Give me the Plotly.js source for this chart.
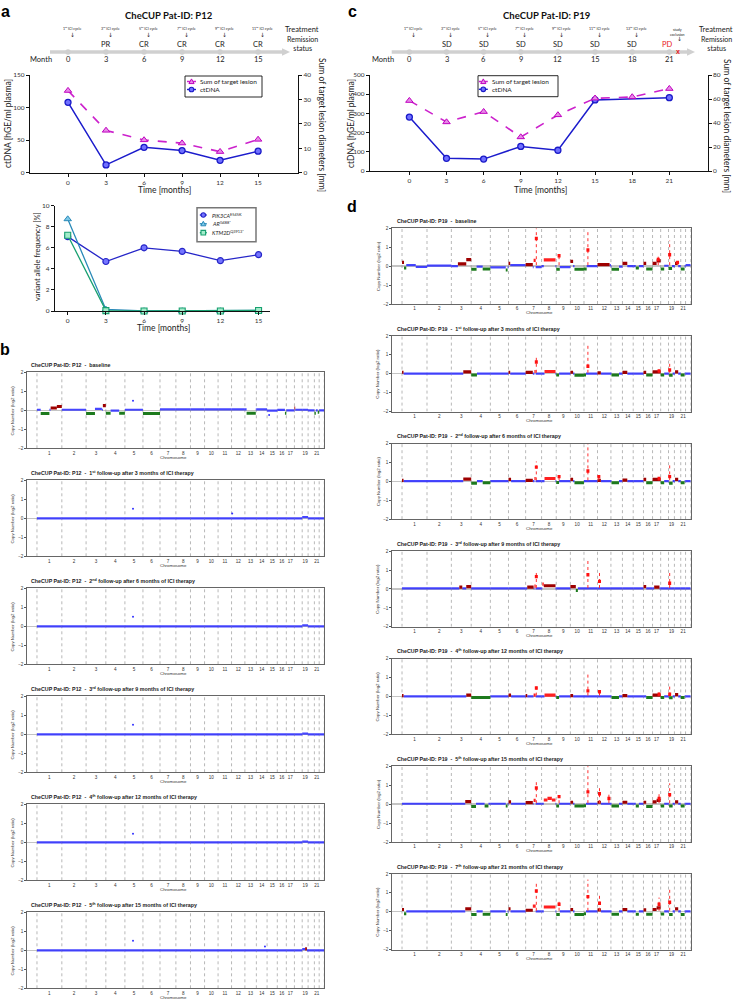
<!DOCTYPE html>
<html><head><meta charset="utf-8">
<script src="https://cdn.plot.ly/plotly-3.0.1.min.js"></script>
<style>html,body{margin:0;padding:0;background:#fff}#plot{width:733px;height:999px}</style>
</head><body><div id="plot"></div>
<script>
// ================= DATA =================
const monthsA = [0, 3, 6, 9, 12, 15];
const ctdnaA = [108, 12, 39, 34, 19, 33];
const lesionA = [33.6, 17.3, 13.4, 12.1, 8.6, 13.6];
const treatA = ['1<sup>st</sup> ICI cycle','3<sup>rd</sup> ICI cycle','5<sup>th</sup> ICI cycle','7<sup>th</sup> ICI cycle','9<sup>th</sup> ICI cycle','11<sup>th</sup> ICI cycle'];
const remissionA = ['', 'PR', 'CR', 'CR', 'CR', 'CR'];
const ticksCtA = [0, 50, 100, 150];
const ticksLesA = [0, 10, 20, 30, 40];

const monthsVAF = [0, 3, 6, 9, 12, 15];
const vafPIK3CA = [7.06, 4.7, 6.0, 5.66, 4.78, 5.35];
const vafAR = [8.73, 0.15, 0, 0, 0, 0.05];
const vafKTM2D = [7.2, 0.04, 0, 0, 0, 0.05];
const ticksVAF = [0, 2, 4, 6, 8, 10];

const monthsC = [0, 3, 6, 9, 12, 15, 18, 21];
const ctdnaMonthsC = [0, 3, 6, 9, 12, 15, 21];
const ctdnaC = [281, 66, 62, 128, 108, 370, 382];
const lesionC = [58.6, 40.8, 49.4, 28.3, 46.7, 60.6, 61.7, 68.6];
const treatC = ['1<sup>st</sup> ICI cycle','3<sup>rd</sup> ICI cycle','5<sup>th</sup> ICI cycle','7<sup>th</sup> ICI cycle','9<sup>th</sup> ICI cycle','11<sup>th</sup> ICI cycle','13<sup>th</sup> ICI cycle','study<br>exclusion'];
const remissionC = ['', 'SD', 'SD', 'SD', 'SD', 'SD', 'SD', 'PD'];
const ticksCtC = [0, 100, 200, 300, 400, 500];
const ticksLesC = [0, 20, 40, 60, 80];

// chromosome lengths (Mb, hg19) and shown tick names
const chrLen = [249.25,243.2,198.02,191.15,180.92,171.12,159.14,146.36,141.21,135.53,135.01,133.85,115.17,107.35,102.53,90.35,81.2,78.08,59.13,63.03,48.13,51.3];
const chrNames = ['1','2','3','4','5','6','7','8','9','10','11','12','13','14','15','16','17','','19','','21',''];
const cnTicks = [-2, -1, 0, 1, 2];

// CNV segments: [chromosome, startFraction, endFraction, log2ratio, class]  b=neutral g=loss r=gain R=high gain
// amplifications: [chromosome, fraction, core log2ratio, top log2ratio]
// outliers: [chromosome, fraction, log2ratio]
const p19_0_base = [0.05,0.03,0,-0.02,-0.06,0.05,-0.05,0,-0.05,0,0,0.05,-0.02,0,0,0,0,0.02,0,0,0,0.05];
const p19_0_segs = [[1,0,.08,.2,'r'],[1,.08,.17,-.1,'g'],[1,.55,1,-.04,'b'],[3,.33,.75,.12,'r'],[3,.75,1,.35,'r'],[4,0,.28,-.17,'g'],[4,.6,1,-.15,'g'],[5,.85,.95,-.2,'g'],[6,0,.1,.15,'r'],[7,0,.45,.08,'r'],[7,.5,.63,.3,'R'],[8,.15,.95,.33,'R'],[9,0,.25,-.17,'g'],[10,0,.2,.25,'r'],[10,.3,1,-.17,'g'],[11,0,.2,-.15,'g'],[12,0,.9,.08,'r'],[13,.05,.7,-.17,'g'],[14,0,.45,.15,'r'],[15,.25,.55,-.1,'g'],[16,0,.3,.15,'r'],[16,.3,1,-.15,'g'],[17,0,.5,.15,'r'],[17,.5,1,.28,'r'],[18,0,.45,-.15,'g'],[19,0,.6,-.12,'g'],[20,.1,.6,.15,'r'],[21,0,.8,-.15,'g']];
const p19_0_amps = [[7,.67,1.46,2.0],[11,.29,.85,1.8],[19,.2,.6,1.35],[9,.2,.55,.67],[17,.7,.35,.5],[20,.5,.2,.32]];

const p19_1_segs = [[1,0,.06,.08,'r'],[3,.6,1,.1,'r'],[4,0,.3,-.06,'g'],[6,0,.1,.08,'r'],[7,0,.45,.07,'r'],[7,.55,.63,.12,'R'],[8,.2,.95,.12,'R'],[9,0,.2,-.06,'g'],[10,0,.2,.08,'r'],[10,.3,1,-.08,'g'],[11,0,.15,-.06,'g'],[12,0,.25,.05,'r'],[13,.05,.7,-.07,'g'],[14,0,.45,.07,'r'],[16,0,.3,.07,'r'],[16,.3,1,-.07,'g'],[17,0,1,.1,'r'],[18,0,.45,-.07,'g'],[19,.1,.7,-.08,'g'],[20,.1,.6,.1,'r'],[21,0,.8,-.07,'g']];
const p19_1_amps = [[7,.67,.62,1.0],[11,.29,.4,1.55],[19,.2,.2,.7],[17,.8,.15,.25]];

const p19_2_segs = [[1,0,.06,.05,'r'],[3,.6,1,.12,'r'],[4,0,.3,-.1,'g'],[4,.6,1,-.08,'g'],[6,0,.15,.1,'r'],[7,0,.45,.05,'r'],[7,.55,.63,.15,'R'],[8,.2,.95,.15,'R'],[9,0,.2,-.06,'g'],[10,0,.2,.1,'r'],[10,.3,1,-.08,'g'],[12,0,.25,.05,'r'],[13,.05,.7,-.08,'g'],[14,0,.45,.07,'r'],[16,0,.3,.1,'r'],[16,.3,1,-.08,'g'],[17,0,1,.1,'r'],[18,0,.45,-.07,'g'],[19,.1,.7,-.1,'g'],[20,.1,.6,.1,'r'],[21,0,.8,-.08,'g']];
const p19_2_amps = [[7,.67,.75,1.05],[11,.29,.55,2.0],[12,.1,.25,.3],[19,.2,.25,.9],[9,.2,.25,.25],[17,.8,.15,.35]];

const p19_3_segs = [[3,.4,.55,.1,'r'],[3,.75,1,.12,'r'],[7,.1,.5,.1,'r'],[7,.55,.63,.15,'R'],[8,.05,.15,.25,'R'],[8,.15,.95,.17,'r'],[10,0,.4,.12,'r'],[10,.4,.55,-.08,'g'],[16,0,.3,.12,'r'],[17,.2,.85,.1,'r']];
const p19_3_amps = [[7,.67,.65,1.0],[11,.29,.75,1.6],[12,.15,.4,1.0],[19,.2,.3,1.0]];

const p19_4_segs = [[1,0,.06,.05,'r'],[3,.75,1,.08,'r'],[4,0,1,-.05,'g'],[6,0,.15,.08,'r'],[7,0,.1,.05,'r'],[7,.5,.63,.08,'R'],[8,.2,.95,.08,'R'],[9,0,.2,-.05,'g'],[10,0,.2,.05,'r'],[13,.05,.7,-.05,'g'],[14,0,.45,.05,'r'],[16,.3,1,-.05,'g'],[17,0,1,.08,'r'],[18,0,.45,-.05,'g'],[19,.1,.7,-.07,'g'],[20,.1,.6,.1,'r'],[21,0,.8,-.05,'g']];
const p19_4_amps = [[7,.67,.45,.55],[11,.29,.3,1.3],[12,.15,.25,.3],[19,.2,.12,.55],[17,.8,.12,.3]];

const p19_5_segs = [[3,.7,1,.13,'r'],[4,0,.25,-.12,'g'],[4,.7,.9,-.1,'g'],[5,.85,.95,-.1,'g'],[6,0,.15,.12,'r'],[7,0,.45,.08,'r'],[7,.5,.63,.2,'R'],[8,.15,.4,.22,'R'],[8,.4,.7,.3,'R'],[8,.7,.95,.22,'R'],[9,0,.2,-.1,'g'],[10,0,.2,.1,'r'],[10,.3,1,-.1,'g'],[11,0,.15,-.08,'g'],[12,0,.25,.1,'r'],[13,.05,.7,-.1,'g'],[14,0,.45,.1,'r'],[15,.25,.55,-.1,'g'],[16,0,.3,.1,'r'],[16,.3,1,-.12,'g'],[17,0,.5,.12,'r'],[17,.5,1,.2,'r'],[18,0,.45,-.1,'g'],[19,.1,.7,-.1,'g'],[20,.1,.6,.12,'r'],[21,0,.8,-.1,'g']];
const p19_5_amps = [[7,.67,.85,1.2],[11,.29,.65,2.05],[12,.15,.55,.95],[19,.2,.5,1.1],[9,.2,.4,.45],[17,.8,.3,.6],[12,.85,.3,.5]];

const p19_6_segs = [[1,0,.08,.12,'r'],[1,.08,.17,-.1,'g'],[3,.7,1,.15,'r'],[4,0,.28,-.15,'g'],[4,.6,1,-.13,'g'],[5,.85,.95,-.15,'g'],[6,0,.12,.15,'r'],[7,0,.45,.08,'r'],[7,.45,.63,.3,'R'],[8,.15,.95,.25,'R'],[9,0,.25,-.15,'g'],[10,0,.2,.12,'r'],[10,.3,1,-.15,'g'],[11,0,.15,-.1,'g'],[12,0,.25,.1,'r'],[13,.05,.7,-.13,'g'],[14,0,.45,.12,'r'],[15,.25,.55,-.13,'g'],[16,0,.3,.1,'r'],[16,.3,1,-.13,'g'],[17,0,.5,.12,'r'],[17,.5,1,.2,'r'],[18,0,.45,-.12,'g'],[19,.1,.7,-.15,'g'],[20,.1,.6,.15,'r'],[21,0,.8,-.15,'g']];
const p19_6_amps = [[7,.67,1.1,1.6],[11,.29,.8,1.7],[12,.15,.45,.95],[19,.2,.5,1.3],[9,.2,.4,.6],[17,.8,.4,.75]];

const p12_0_base = [0.03,0.03,0.03,-0.02,0.03,0.03,0.05,0.05,0.05,0.05,0.05,0.05,0.05,0.05,-0.02,0.02,0,0.03,0.03,0,0,0];
const p12_0_segs = [[1,.15,.5,-.17,'g'],[1,.55,.8,.12,'r'],[1,.8,1,.2,'r'],[3,0,.45,-.17,'g'],[3,.45,.8,.08,'b'],[3,.85,1,.25,'r'],[4,0,.25,-.15,'g'],[4,.7,1,-.15,'g'],[6,0,1,-.17,'g'],[13,.15,.95,-.15,'g'],[16,.85,1,-.15,'g'],[18,0,.1,.12,'r'],[21,0,.3,-.15,'g'],[21,.7,1,-.1,'g']];
const p12_0_out = [[5,.45,.5],[15,.2,-.25]];
const p12_1_segs = [[19,0,1,.06,'b']];
const p12_1_out = [[5,.45,.5],[12,.05,.25]];
const p12_2_segs = [[19,0,1,.05,'b']];
const p12_2_out = [[5,.45,.5]];
const p12_3_segs = [[19,0,1,.04,'b']];
const p12_3_out = [[5,.45,.5]];
const p12_4_segs = [[19,0,1,.04,'b']];
const p12_4_out = [[5,.45,.45]];
const p12_5_segs = [[19,0,.5,.06,'b'],[19,.5,.8,.08,'r']];
const p12_5_out = [[5,.45,.5],[14,.8,.2]];

const titlesP12 = ['baseline','1<sup>st</sup> follow-up after 3 months of ICI therapy','2<sup>nd</sup> follow-up after 6 months of ICI therapy','3<sup>rd</sup> follow-up after 9 months of ICI therapy','4<sup>th</sup> follow-up after 12 months of ICI therapy','5<sup>th</sup> follow-up after 15 months of ICI therapy'];
const titlesP19 = ['baseline','1<sup>st</sup> follow-up after 3 months of ICI therapy','2<sup>nd</sup> follow-up after 6 months of ICI therapy','3<sup>rd</sup> follow-up after 9 months of ICI therapy','4<sup>th</sup> follow-up after 12 months of ICI therapy','5<sup>th</sup> follow-up after 15 months of ICI therapy','7<sup>th</sup> follow-up after 21 months of ICI therapy'];

// ================= HELPERS =================
const W = 733, H = 999;
const px = v => v / W, py = v => 1 - v / H;
const FONT = 'Lato, "Open Sans", sans-serif';
const AFONT = '"Liberation Sans", Arial, sans-serif';
const chrStart = []; let acc = 0; chrLen.forEach(l => { chrStart.push(acc); acc += l; });
const genomeLen = acc;
const chrCenter = chrLen.map((l, i) => chrStart[i] + l / 2);
const shownIdx = chrNames.map((n,i)=>n?i:-1).filter(i=>i>=0);
const chrTickVals = shownIdx.map(i=>chrCenter[i]);
const chrTickText = shownIdx.map(i=>chrNames[i]);
const chrX = (c, f) => chrStart[c - 1] + f * chrLen[c - 1];

const traces = [], ann = [], shapes = [];
const layout = {width: W, height: H, margin: {l:0,r:0,t:0,b:0}, paper_bgcolor:'#fff', plot_bgcolor:'rgba(0,0,0,0)', showlegend:false, font:{family:FONT}};
function A(o) { const f = Object.assign({family: FONT, size: 7.5, color: '#222'}, o.font || {}); ann.push(Object.assign({showarrow:false, xref:'paper', yref:'paper', xanchor:'center', yanchor:'middle'}, o, {font: f})); }

const axBase = {showgrid:false, zeroline:false, showline:true, linecolor:'#111', linewidth:1.1, ticks:'outside', ticklen:3, tickwidth:1, tickcolor:'#111', tickfont:{family:FONT,size:6.5,color:'#333'}, fixedrange:true};

// ================= PANEL A (top) =================
layout.xaxis = Object.assign({}, axBase, {domain:[px(30),px(298)], range:[-3,18.15], tickvals:monthsA, anchor:'y'});
layout.yaxis = Object.assign({}, axBase, {domain:[py(172.7),py(75)], range:[0,150], tickvals:ticksCtA, anchor:'x'});
layout.yaxis2 = Object.assign({}, axBase, {overlaying:'y', side:'right', range:[0,40], tickvals:ticksLesA, anchor:'x'});
layout.yaxis3 = {domain:[py(56),py(48)], range:[-1,1], visible:false, anchor:'x', fixedrange:true};

const magenta = '#cc22cc', blue = '#1c1ccc';
traces.push({x:monthsA, y:lesionA, xaxis:'x', yaxis:'y2', mode:'lines+markers', line:{color:magenta,width:1.6,dash:'dash'}, marker:{symbol:'triangle-up',size:6.5,color:'#e68ae6',line:{color:'#c000c0',width:1}}, cliponaxis:false});
traces.push({x:monthsA, y:ctdnaA, xaxis:'x', yaxis:'y', mode:'lines+markers', line:{color:blue,width:1.5}, marker:{symbol:'circle',size:6,color:'#7070ff',line:{color:'#1a1ac8',width:1.3}}, cliponaxis:false});
traces.push({x:monthsA, y:monthsA.map(()=>0), xaxis:'x', yaxis:'y3', mode:'markers', marker:{size:5.5,color:'#cfcfcf'}, cliponaxis:false});

A({x:px(5), y:py(12), text:'<b>a</b>', font:{family:AFONT,size:16,color:'#000'}});
A({x:px(169), y:py(16), text:'<b>CheCUP Pat-ID: P12</b>', font:{size:9.5,color:'#111'}});
monthsA.forEach((m,i)=>{
  A({xref:'x', x:m, y:py(28.3), text:treatA[i], font:{size:3.6}, xshift:4});
  A({xref:'x', x:m, y:py(34.3), text:'↓', font:{family:'DejaVu Sans',size:6,color:'#222'}, xshift:4});
  if (remissionA[i]) A({xref:'x', x:m, y:py(45), text:remissionA[i], font:{size:7.5}});
  A({xref:'x', x:m, y:py(60), text:String(m), font:{size:7.5}});
});
A({x:px(41), y:py(60), text:'Month', font:{size:7.5}});
A({x:px(302), y:py(29.5), text:'Treatment', font:{size:7.5}});
A({x:px(302), y:py(44), text:'Remission<br>status', font:{size:7.1}});
shapes.push({type:'line', xref:'paper', yref:'paper', x0:px(50), x1:px(283), y0:py(52), y1:py(52), line:{color:'#d0d0d0',width:3.5}, layer:'below'});
shapes.push({type:'path', xref:'paper', yref:'paper', path:`M ${px(282)} ${py(48.3)} L ${px(290)} ${py(52)} L ${px(282)} ${py(55.7)} Z`, fillcolor:'#d0d0d0', line:{width:0}});
A({x:px(8), y:py(124), text:'ctDNA [hGE/ml plasma]', textangle:-90, font:{size:8.5}});
A({x:px(322), y:py(125), text:'Sum of target lesion diameters [mm]', textangle:90, font:{size:8.5}});
A({x:px(164), y:py(189.5), text:'Time [months]', font:{size:8.5}});

// manual legend helpers
function box(x0,y0,x1,y1,col,w){ shapes.push({type:'rect', xref:'paper', yref:'paper', x0:px(x0), x1:px(x1), y0:py(y1), y1:py(y0), line:{color:col,width:w}, fillcolor:'rgba(255,255,255,0.9)'}); }
function gLine(cx,cy,col,dash,half){ shapes.push({type:'line', xref:'paper', yref:'paper', x0:px(cx-half), x1:px(cx+half), y0:py(cy), y1:py(cy), line:{color:col,width:1.4,dash:dash}}); }
function gCircle(cx,cy,r,fill,col){ shapes.push({type:'circle', xref:'paper', yref:'paper', x0:px(cx-r), x1:px(cx+r), y0:py(cy+r), y1:py(cy-r), fillcolor:fill, line:{color:col,width:1.1}}); }
function gTri(cx,cy,r,fill,col){ shapes.push({type:'path', xref:'paper', yref:'paper', path:`M ${px(cx-r)} ${py(cy+r*0.8)} L ${px(cx)} ${py(cy-r)} L ${px(cx+r)} ${py(cy+r*0.8)} Z`, fillcolor:fill, line:{color:col,width:1}}); }
function gSq(cx,cy,r,fill,col){ shapes.push({type:'rect', xref:'paper', yref:'paper', x0:px(cx-r), x1:px(cx+r), y0:py(cy+r), y1:py(cy-r), fillcolor:fill, line:{color:col,width:1.1}}); }

box(185,76,262,97,'#111',0.9);
gLine(191.5,81.5,magenta,'dot',4.5); gTri(191.5,81.5,2.6,'#e68ae6','#c000c0');
A({x:px(197.5), y:py(81.5), xanchor:'left', text:'Sum of target lesion', font:{size:6.5}});
gLine(191.5,89.5,blue,'solid',4.5); gCircle(191.5,89.5,2.3,'#7070ff','#1a1ac8');
A({x:px(197.5), y:py(89.5), xanchor:'left', text:'ctDNA', font:{size:6.5}});

// ================= PANEL A (VAF) =================
layout.xaxis2 = Object.assign({}, axBase, {domain:[px(55),px(270)], range:[-1,15.9], tickvals:monthsVAF, anchor:'y4'});
layout.yaxis4 = Object.assign({}, axBase, {domain:[py(311),py(205.7)], range:[0,10], tickvals:ticksVAF, anchor:'x2'});
const cP = '#2626c8', cAR = '#2a8ab8', cKM = '#18a070';
traces.push({x:monthsVAF, y:vafPIK3CA, xaxis:'x2', yaxis:'y4', mode:'lines+markers', line:{color:cP,width:1.3}, marker:{symbol:'circle',size:6,color:'#7575ff',line:{color:cP,width:1.2}}, cliponaxis:false});
traces.push({x:monthsVAF, y:vafAR, xaxis:'x2', yaxis:'y4', mode:'lines+markers', line:{color:cAR,width:1.3}, marker:{symbol:'triangle-up',size:6.5,color:'#7cc8e8',line:{color:cAR,width:1}}, cliponaxis:false});
traces.push({x:monthsVAF, y:vafKTM2D, xaxis:'x2', yaxis:'y4', mode:'lines+markers', line:{color:cKM,width:1.3}, marker:{symbol:'square',size:6,color:'#a2ecca',line:{color:cKM,width:1.1}}, cliponaxis:false});
A({x:px(37), y:py(257), text:'variant allele frequency [%]', textangle:-90, font:{size:7.5}});
A({x:px(163), y:py(328), text:'Time [months]', font:{size:8.5}});
box(197,207.7,256,241.7,'#777',1.5);
gLine(203.3,215,cP,'solid',3.5); gCircle(203.3,215,2.2,'#7575ff',cP);
A({x:px(209.5), y:py(215), xanchor:'left', text:'<i>PIK3CA</i><sup>E545K</sup>', font:{size:5.5}});
gLine(203.3,223.8,cAR,'solid',3.5); gTri(203.3,223.8,2.5,'#7cc8e8',cAR);
A({x:px(209.5), y:py(223.8), xanchor:'left', text:'<i>AR</i><sup>G488*</sup>', font:{size:5.5}});
gLine(203.3,232.7,cKM,'solid',3.5); gSq(203.3,232.7,2.3,'#a2ecca',cKM);
A({x:px(209.5), y:py(232.7), xanchor:'left', text:'<i>KTM2D</i><sup>Q3913*</sup>', font:{size:5.5}});

// ================= PANEL C =================
layout.xaxis3 = Object.assign({}, axBase, {domain:[px(370),px(707.7)], range:[-3.18,24.1], tickvals:monthsC, anchor:'y5'});
layout.yaxis5 = Object.assign({}, axBase, {domain:[py(171),py(75)], range:[0,500], tickvals:ticksCtC, anchor:'x3'});
layout.yaxis6 = Object.assign({}, axBase, {overlaying:'y5', side:'right', range:[0,80], tickvals:ticksLesC, anchor:'x3'});
layout.yaxis7 = {domain:[py(56),py(48)], range:[-1,1], visible:false, anchor:'x3', fixedrange:true};
traces.push({x:monthsC, y:lesionC, xaxis:'x3', yaxis:'y6', mode:'lines+markers', line:{color:magenta,width:1.6,dash:'dash'}, marker:{symbol:'triangle-up',size:6.5,color:'#e68ae6',line:{color:'#c000c0',width:1}}, cliponaxis:false});
traces.push({x:ctdnaMonthsC, y:ctdnaC, xaxis:'x3', yaxis:'y5', mode:'lines+markers', line:{color:blue,width:1.5}, marker:{symbol:'circle',size:6,color:'#7070ff',line:{color:'#1a1ac8',width:1.3}}, cliponaxis:false});
traces.push({x:monthsC, y:monthsC.map(()=>0), xaxis:'x3', yaxis:'y7', mode:'markers', marker:{size:5.5,color:'#cfcfcf'}, cliponaxis:false});

A({x:px(352), y:py(12), text:'<b>c</b>', font:{family:AFONT,size:16,color:'#000'}});
A({x:px(547), y:py(16), text:'<b>CheCUP Pat-ID: P19</b>', font:{size:9.5,color:'#111'}});
monthsC.forEach((m,i)=>{
  const last = i === monthsC.length-1;
  A({xref:'x3', x:m, y:py(last?31.5:28.3), text:treatC[i], font:{size:3.6}, xshift:last?8:4});
  A({xref:'x3', x:m, y:py(last?38.8:34.3), text:'↓', font:{family:'DejaVu Sans',size:6,color:'#222'}, xshift:last?10:4});
  if (remissionC[i]) A({xref:'x3', x:m, y:py(45), text:remissionC[i], font:{size:7.5,color:last?'#e8201a':'#222'}, xshift:last?-2:0});
  A({xref:'x3', x:m, y:py(60), text:String(m), font:{size:7.5}});
});
A({xref:'x3', x:monthsC[monthsC.length-1], y:py(51.5), xshift:9, text:'<b>x</b>', font:{family:AFONT,size:7,color:'#e8201a'}});
A({x:px(383), y:py(60), text:'Month', font:{size:7.5}});
A({x:px(716), y:py(29.5), text:'Treatment', font:{size:7.5}});
A({x:px(716), y:py(44), text:'Remission<br>status', font:{size:7.1}});
shapes.push({type:'line', xref:'paper', yref:'paper', x0:px(391.7), x1:px(688), y0:py(52), y1:py(52), line:{color:'#d0d0d0',width:3.5}, layer:'below'});
shapes.push({type:'path', xref:'paper', yref:'paper', path:`M ${px(687)} ${py(48.3)} L ${px(695)} ${py(52)} L ${px(687)} ${py(55.7)} Z`, fillcolor:'#d0d0d0', line:{width:0}, layer:'below'});
A({x:px(351), y:py(124), text:'ctDNA [hGE/ml plasma]', textangle:-90, font:{size:8.5}});
A({x:px(727), y:py(126), text:'Sum of target lesion diameters [mm]', textangle:90, font:{size:8.5}});
A({x:px(540), y:py(190), text:'Time [months]', font:{size:8.5}});
box(478,75.7,558,96.7,'#111',0.9);
gLine(483.3,81.5,magenta,'dot',4.5); gTri(483.3,81.5,2.6,'#e68ae6','#c000c0');
A({x:px(490), y:py(81.5), xanchor:'left', text:'Sum of target lesion', font:{size:6.5}});
gLine(483.3,89.3,blue,'solid',4.5); gCircle(483.3,89.3,2.3,'#7070ff','#1a1ac8');
A({x:px(490), y:py(89.3), xanchor:'left', text:'ctDNA', font:{size:6.5}});

// ================= CNV PANELS =================
const cnvCol = {b:'rgba(50,50,255,0.9)', g:'#1d7a1d', r:'#9e0000', R:'#ff2020'};
const cnvW = {b:2.2, g:3, r:3.2, R:3.2};
let axN = 4, ayN = 8;
function cnvPlot(sample, x0, x1, top, bot, title, titleX, ylabX) {
  const xid = 'x'+axN, yid = 'y'+ayN;
  layout['xaxis'+axN] = {domain:[px(x0),px(x1)], range:[-103, genomeLen], anchor:yid, showgrid:false, zeroline:false, showline:true, mirror:true, linecolor:'#555', linewidth:0.9, ticks:'', tickvals:chrTickVals, ticktext:chrTickText, tickfont:{family:AFONT,size:4.6,color:'#333'}, fixedrange:true};
  layout['yaxis'+ayN] = {domain:[py(bot),py(top)], range:[-2,2], anchor:xid, showgrid:false, zeroline:true, zerolinecolor:'#c4c4c4', zerolinewidth:1.4, showline:true, mirror:true, linecolor:'#555', linewidth:0.9, ticks:'outside', ticklen:1.5, tickcolor:'#555', tickvals:cnTicks, tickfont:{family:AFONT,size:4.6,color:'#333'}, fixedrange:true};
  axN++; ayN++;
  const bx = [], by = [];
  chrStart.concat([genomeLen]).forEach(b => { bx.push(b,b,null); by.push(-2,2,null); });
  traces.push({x:bx, y:by, xaxis:xid, yaxis:yid, mode:'lines', line:{color:'#9a9a9a',width:0.7,dash:'dot'}, hoverinfo:'skip'});
  const grp = {b:{x:[],y:[]}, g:{x:[],y:[]}, r:{x:[],y:[]}, R:{x:[],y:[]}};
  const segs = sample.segs || [];
  for (let c = 1; c <= 22; c++) {
    const lvl = Array.isArray(sample.base) ? sample.base[c-1] : sample.base;
    const own = segs.filter(s => s[0] === c).sort((a,b) => a[1]-b[1]);
    let pos = 0;
    own.forEach(s => { if (s[1] > pos + 0.004) { grp.b.x.push(chrX(c,pos), chrX(c,s[1]), null); grp.b.y.push(lvl,lvl,null); } pos = Math.max(pos, s[2]); });
    if (pos < 0.996) { grp.b.x.push(chrX(c,pos), chrX(c,1), null); grp.b.y.push(lvl,lvl,null); }
  }
  segs.forEach(s => { grp[s[4]].x.push(chrX(s[0],s[1]), chrX(s[0],s[2]), null); grp[s[4]].y.push(s[3],s[3],null); });
  ['b','g','r','R'].forEach(k => { if (grp[k].x.length) traces.push({x:grp[k].x, y:grp[k].y, xaxis:xid, yaxis:yid, mode:'lines', line:{color:cnvCol[k],width:cnvW[k]}, hoverinfo:'skip'}); });
  const amps = sample.amps || [];
  if (amps.length) {
    const sx = [], sy = [], cx = [], cy = [];
    amps.forEach(a => { const X = chrX(a[0],a[1]); sx.push(X,X,null); sy.push(0.05,a[3],null); cx.push(X,X,null); cy.push(a[2]-0.09,a[2]+0.09,null); });
    traces.push({x:sx, y:sy, xaxis:xid, yaxis:yid, mode:'lines', line:{color:'#ff3030',width:1,dash:'dot'}, hoverinfo:'skip'});
    traces.push({x:cx, y:cy, xaxis:xid, yaxis:yid, mode:'lines', line:{color:'#ff1010',width:3}, hoverinfo:'skip'});
  }
  const out = sample.out || [];
  if (out.length) traces.push({x:out.map(o=>chrX(o[0],o[1])), y:out.map(o=>o[2]), xaxis:xid, yaxis:yid, mode:'markers', marker:{color:'#3030ff',size:2}, hoverinfo:'skip'});
  A({x:px(titleX), y:py(top-7.3), xanchor:'left', text:'<b>'+title+'</b>', font:{family:AFONT,size:5.3,color:'#222'}});
  A({x:px(ylabX), y:py((top+bot)/2), text:'Copy Number (log2 ratio)', textangle:-90, font:{family:AFONT,size:4.4,color:'#333'}});
  A({x:px((x0+x1)/2 - 2), y:py(bot+8.9), text:'Chromosome', font:{family:AFONT,size:4.4,color:'#333'}});
}

const SP = '\u00a0\u00a0-\u00a0\u00a0';
const p12Samples = [
  {base:p12_0_base, segs:p12_0_segs, out:p12_0_out},
  {base:0.0, segs:p12_1_segs, out:p12_1_out},
  {base:0.0, segs:p12_2_segs, out:p12_2_out},
  {base:0.0, segs:p12_3_segs, out:p12_3_out},
  {base:0.0, segs:p12_4_segs, out:p12_4_out},
  {base:0.0, segs:p12_5_segs, out:p12_5_out}
];
p12Samples.forEach((s,k) => cnvPlot(s, 26.7, 324.3, 372.3+108*k, 448.3+108*k, 'CheCUP Pat-ID: P12'+SP+titlesP12[k], 28.5, 12.3));

const p19Samples = [
  {base:p19_0_base, segs:p19_0_segs, amps:p19_0_amps},
  {base:0.01, segs:p19_1_segs, amps:p19_1_amps},
  {base:0.01, segs:p19_2_segs, amps:p19_2_amps},
  {base:0.03, segs:p19_3_segs, amps:p19_3_amps},
  {base:0.01, segs:p19_4_segs, amps:p19_4_amps},
  {base:0.02, segs:p19_5_segs, amps:p19_5_amps},
  {base:0.02, segs:p19_6_segs, amps:p19_6_amps}
];
p19Samples.forEach((s,k) => cnvPlot(s, 391.7, 690.7, 228.3+107.6*k, 304+107.6*k, 'CheCUP Pat-ID: P19'+SP+titlesP19[k], 395, 378));

A({x:px(5), y:py(349), text:'<b>b</b>', font:{family:AFONT,size:16,color:'#000'}});
A({x:px(352), y:py(206), text:'<b>d</b>', font:{family:AFONT,size:16,color:'#000'}});

layout.annotations = ann;
layout.shapes = shapes;
Plotly.newPlot('plot', traces, layout, {displayModeBar:false, staticPlot:true});
</script></body></html>
